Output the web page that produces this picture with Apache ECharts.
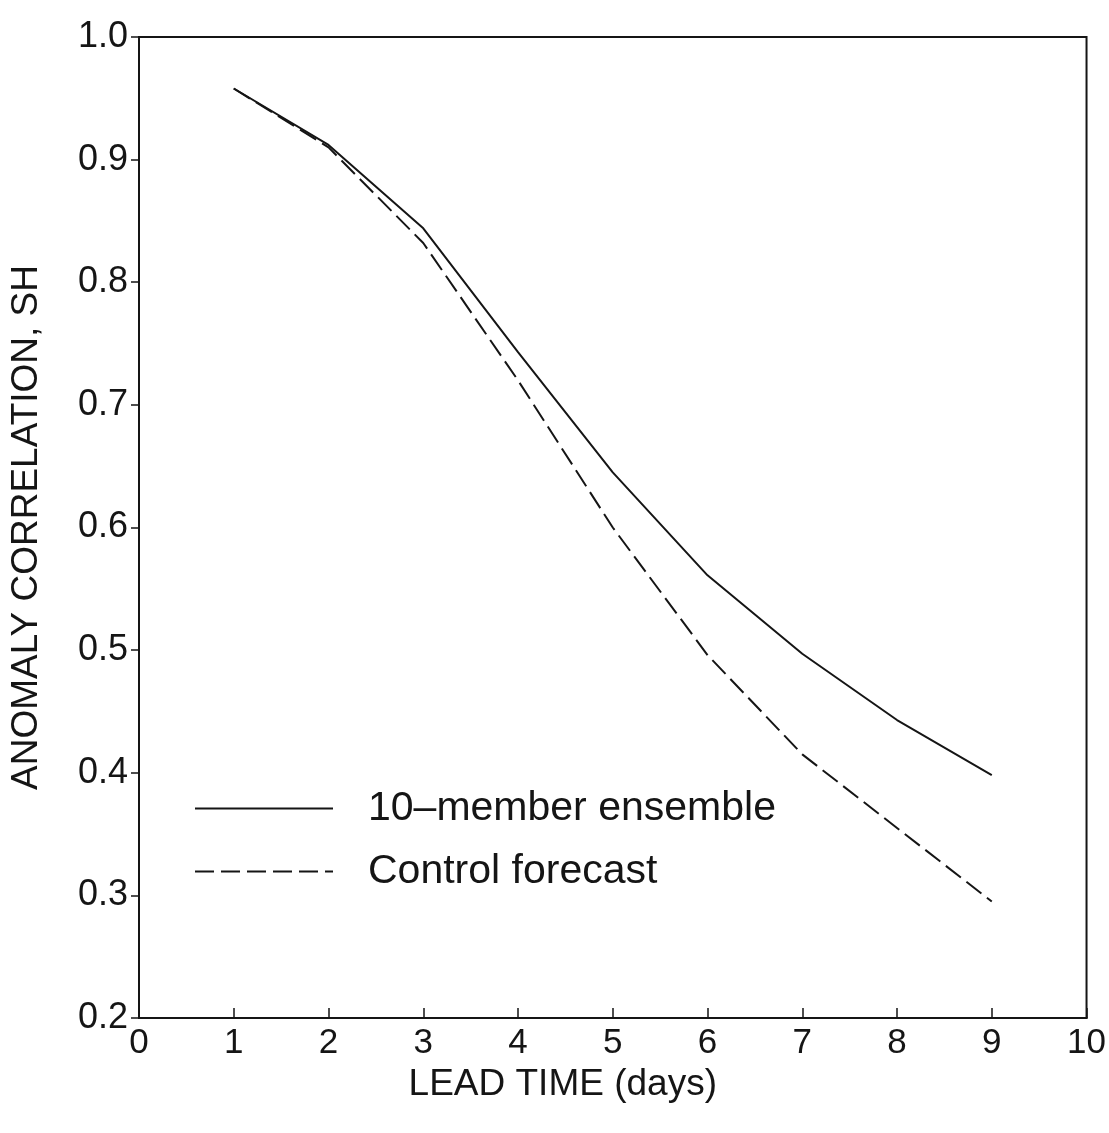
<!DOCTYPE html>
<html>
<head>
<meta charset="utf-8">
<script src="https://cdn.jsdelivr.net/npm/echarts@6/dist/echarts.min.js"></script>
<style>
html,body{margin:0;padding:0;background:#fff;}
#c{width:1109px;height:1133px;}
</style>
</head>
<body>
<div id="c"></div>
<script>
var days = [1, 2, 3, 4, 5, 6, 7, 8, 9];
var ensemble = [0.958, 0.912, 0.844, 0.743, 0.645, 0.561, 0.497, 0.443, 0.398];
var control  = [0.958, 0.910, 0.832, 0.720, 0.600, 0.496, 0.415, 0.355, 0.295];
var xTicks = [0, 1, 2, 3, 4, 5, 6, 7, 8, 9, 10];
var yTicks = [0.2, 0.3, 0.4, 0.5, 0.6, 0.7, 0.8, 0.9, 1.0];
var seriesNames = ['10\u2013member ensemble', 'Control forecast'];
var xTitle = 'LEAD TIME (days)';
var yTitle = 'ANOMALY CORRELATION, SH';

function pairs(xs, ys){ return xs.map(function(x,i){ return [x, ys[i]]; }); }

var FONT = "'Liberation Sans', Arial, Helvetica, sans-serif";
var INK = '#151515';
var chart = echarts.init(document.getElementById('c'));
chart.setOption({
  backgroundColor: '#ffffff',
  animation: false,
  textStyle: { fontFamily: FONT, color: INK },
  grid: { left: 138, right: 21, top: 37, bottom: 115, show: true, borderColor: INK, borderWidth: 2, backgroundColor: 'transparent' },
  xAxis: {
    type: 'value', min: xTicks[0], max: xTicks[xTicks.length-1], interval: 1,
    name: xTitle, nameLocation: 'middle', nameGap: 48,
    nameTextStyle: { fontSize: 37, color: INK, fontFamily: FONT, padding: [0, 100, 0, 0] },
    axisLine: { show: true, lineStyle: { color: INK, width: 2 } },
    axisTick: { show: true, inside: true, length: 10, lineStyle: { color: INK, width: 1.5 } },
    axisLabel: { fontSize: 35, color: INK, margin: 8, fontFamily: FONT },
    splitLine: { show: false }
  },
  yAxis: {
    type: 'value', min: yTicks[0], max: yTicks[yTicks.length-1], interval: 0.1,
    name: yTitle, nameLocation: 'middle', nameGap: 94,
    nameTextStyle: { fontSize: 37, color: INK, fontFamily: FONT },
    axisLine: { show: true, lineStyle: { color: INK, width: 2 } },
    axisTick: { show: true, inside: false, length: 8, lineStyle: { color: INK, width: 1.5 } },
    axisLabel: { fontSize: 36, color: INK, margin: 11, fontFamily: FONT,
      formatter: function(v){ return v.toFixed(1); } },
    splitLine: { show: false }
  },
  legend: {
    show: true, orient: 'vertical', left: 189, top: 783, itemWidth: 138, itemHeight: 14, itemGap: 22,
    data: seriesNames,
    itemStyle: { color: 'rgba(0,0,0,0)', borderWidth: 0, opacity: 0 },
    textStyle: { fontSize: 41, color: INK, fontFamily: FONT, padding: [0, 0, 0, 30] }
  },
  series: [
    { name: seriesNames[0], type: 'line', data: pairs(days, ensemble), symbol: 'none', showSymbol: false,
      lineStyle: { color: INK, width: 2, type: 'solid' }, itemStyle: { color: 'rgba(0,0,0,0)' } },
    { name: seriesNames[1], type: 'line', data: pairs(days, control), symbol: 'none', showSymbol: false,
      lineStyle: { color: INK, width: 2, type: [19, 7] }, itemStyle: { color: 'rgba(0,0,0,0)' } }
  ]
});
</script>
</body>
</html>
